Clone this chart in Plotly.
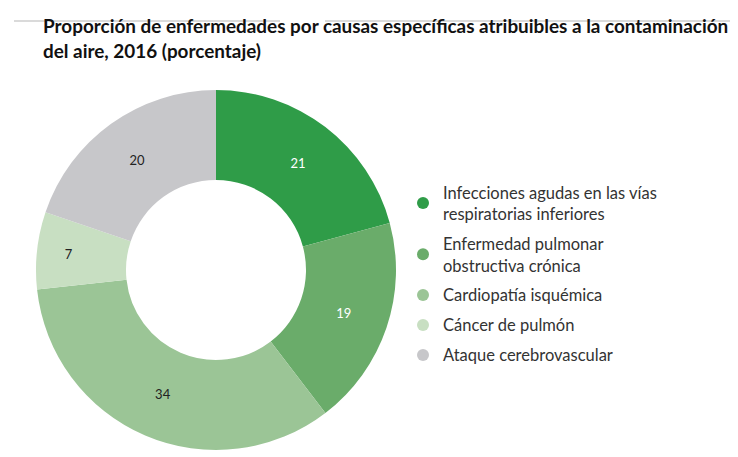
import plotly.graph_objects as go

categories = [
    "Infecciones agudas en las vías<br>respiratorias inferiores",
    "Enfermedad pulmonar<br>obstructiva crónica",
    "Cardiopatía isquémica",
    "Cáncer de pulmón",
    "Ataque cerebrovascular",
]
values = [21, 19, 34, 7, 20]
labels_text = ["21", "19", "34", "7", "20"]
colors = ["#2f9c48", "#6aac6a", "#9bc596", "#c8dfc2", "#c7c7ca"]
text_colors = ["#ffffff", "#ffffff", "#222222", "#222222", "#222222"]

W, H = 738, 457
cx, cy, R = 208, 262, 180

fig = go.Figure()
fig.add_trace(go.Pie(
    labels=categories,
    values=values,
    text=labels_text,
    textinfo="text",
    textposition="inside",
    insidetextorientation="horizontal",
    textfont=dict(size=13, color=text_colors, family="Lato"),
    marker=dict(colors=colors, line=dict(width=0)),
    hole=0.5,
    sort=False,
    direction="clockwise",
    rotation=0,
    showlegend=False,
    domain=dict(x=[(cx - R) / W, (cx + R) / W], y=[(H - cy - R) / H, (H - cy + R) / H]),
))

for name, col in zip(categories, colors):
    fig.add_trace(go.Scatter(
        x=[None], y=[None], mode="markers", name=name,
        marker=dict(symbol="circle", size=14, color=col),
        legendgroup=name,
    ))

fig.update_layout(
    width=W, height=H,
    margin=dict(l=0, r=0, t=0, b=0),
    paper_bgcolor="white", plot_bgcolor="white",
    xaxis=dict(visible=False), yaxis=dict(visible=False),
    title=dict(
        text="Proporción de enfermedades por causas específicas atribuibles a la contaminación<br>del aire, 2016 (porcentaje)",
        x=35 / W, xanchor="left", y=1 - 25 / H, yanchor="top",
        font=dict(family="Lato", size=18.9, color="#111111", weight="bold"),
    ),
    legend=dict(
        x=395 / W, xanchor="left", y=1 - 167 / H, yanchor="top",
        font=dict(family="Lato", size=16.5, color="#333333"),
        tracegroupgap=5.5, itemsizing="constant", bgcolor="rgba(0,0,0,0)",
    ),
    shapes=[
        dict(type="line", xref="paper", yref="paper", x0=6 / W, x1=272 / W, y0=1 - 13 / H, y1=1 - 13 / H,
             line=dict(color="#dadada", width=2)),
        dict(type="line", xref="paper", yref="paper", x0=317 / W, x1=1, y0=1 - 13 / H, y1=1 - 13 / H,
             line=dict(color="#dadada", width=2)),
    ],
)

fig.write_html("out.html")
